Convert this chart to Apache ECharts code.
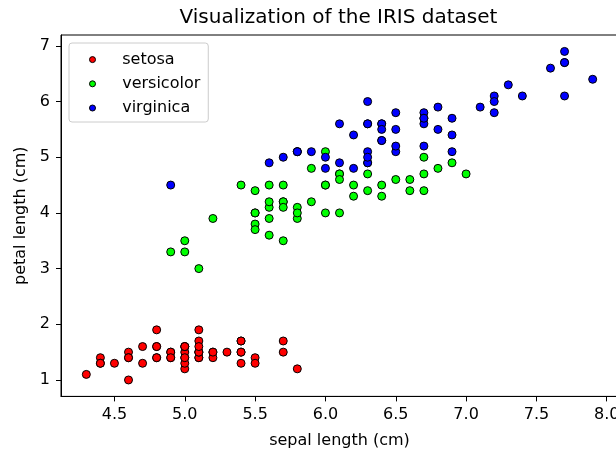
<!DOCTYPE html>
<html>
<head>
<meta charset="utf-8">
<script src="https://cdn.jsdelivr.net/npm/echarts@6/dist/echarts.min.js"></script>
<style>
html,body{margin:0;padding:0;background:#fff;}
#chart{width:616px;height:450px;}
</style>
</head>
<body>
<div id="chart"></div>
<script>
const setosaSepal = [5.1,4.9,4.7,4.6,5.0,5.4,4.6,5.0,4.4,4.9,5.4,4.8,4.8,4.3,5.8,5.7,5.4,5.1,5.7,5.1,5.4,5.1,4.6,5.1,4.8,5.0,5.0,5.2,5.2,4.7,4.8,5.4,5.2,5.5,4.9,5.0,5.5,4.9,4.4,5.1,5.0,4.5,4.4,5.0,5.1,4.8,5.1,4.6,5.3,5.0];
const setosaPetal = [1.4,1.4,1.3,1.5,1.4,1.7,1.4,1.5,1.4,1.5,1.5,1.6,1.4,1.1,1.2,1.5,1.3,1.4,1.7,1.5,1.7,1.5,1.0,1.7,1.9,1.6,1.6,1.5,1.4,1.6,1.6,1.5,1.5,1.4,1.5,1.2,1.3,1.4,1.3,1.5,1.3,1.3,1.3,1.6,1.9,1.4,1.6,1.4,1.5,1.4];
const versicolorSepal = [7.0,6.4,6.9,5.5,6.5,5.7,6.3,4.9,6.6,5.2,5.0,5.9,6.0,6.1,5.6,6.7,5.6,5.8,6.2,5.6,5.9,6.1,6.3,6.1,6.4,6.6,6.8,6.7,6.0,5.7,5.5,5.5,5.8,6.0,5.4,6.0,6.7,6.3,5.6,5.5,5.5,6.1,5.8,5.0,5.6,5.7,5.7,6.2,5.1,5.7];
const versicolorPetal = [4.7,4.5,4.9,4.0,4.6,4.5,4.7,3.3,4.6,3.9,3.5,4.2,4.0,4.7,3.6,4.4,4.5,4.1,4.5,3.9,4.8,4.0,4.9,4.7,4.3,4.4,4.8,5.0,4.5,3.5,3.8,3.7,3.9,5.1,4.5,4.5,4.7,4.4,4.1,4.0,4.4,4.6,4.0,3.3,4.2,4.2,4.2,4.3,3.0,4.1];
const virginicaSepal = [6.3,5.8,7.1,6.3,6.5,7.6,4.9,7.3,6.7,7.2,6.5,6.4,6.8,5.7,5.8,6.4,6.5,7.7,7.7,6.0,6.9,5.6,7.7,6.3,6.7,7.2,6.2,6.1,6.4,7.2,7.4,7.9,6.4,6.3,6.1,7.7,6.3,6.4,6.0,6.9,6.7,6.9,5.8,6.8,6.7,6.7,6.3,6.5,6.2,5.9];
const virginicaPetal = [6.0,5.1,5.9,5.6,5.8,6.6,4.5,6.3,5.8,6.1,5.1,5.3,5.5,5.0,5.1,5.3,5.5,6.7,6.9,5.0,5.7,4.9,6.7,4.9,5.7,6.0,4.8,4.9,5.6,5.8,6.1,6.4,5.6,5.1,5.6,6.1,5.6,5.5,4.8,5.4,5.6,5.1,5.1,5.9,5.7,5.2,5.0,5.2,5.4,5.1];
const speciesNames = ['setosa','versicolor','virginica'];
const speciesColors = ['#ff0000','#00ff00','#0000ff'];
const xTicks = [4.5,5.0,5.5,6.0,6.5,7.0,7.5,8.0];
const yTicks = [1,2,3,4,5,6,7];

const FONT = 'DejaVu Sans';
const pairs = [[setosaSepal,setosaPetal],[versicolorSepal,versicolorPetal],[virginicaSepal,virginicaPetal]];
const series = pairs.map((p,i)=>({
  name: speciesNames[i],
  type: 'scatter',
  data: p[0].map((x,j)=>[x,p[1][j]]),
  symbol: 'circle',
  symbolSize: 8,
  itemStyle: {color: speciesColors[i], borderColor:'#000', borderWidth:1, opacity:1},
  emphasis: {disabled:true}
}));

const chart = echarts.init(document.getElementById('chart'), null, {renderer:'canvas'});
chart.setOption({
  animation: false,
  backgroundColor: '#fff',
  graphic: [{
    type:'text', x:338.5, y:18, z:100,
    style:{text:'Visualization of the IRIS dataset', fontFamily:FONT, fontSize:20, fill:'#000', align:'center', verticalAlign:'middle'}
  }],
  grid: {left:61, right:-2, top:35, bottom:53.6, show:true, borderColor:'#000', borderWidth:1, backgroundColor:'transparent', containLabel:false, outerBoundsMode:'none'},
  legend: {
    orient:'vertical', left:69, top:43,
    padding:[8.6,8,6,20],
    itemGap:8.2, itemWidth:28, itemHeight:6,
    icon:'circle',
    backgroundColor:'rgba(255,255,255,0.8)', borderColor:'#cccccc', borderWidth:1, borderRadius:3,
    textStyle:{fontFamily:FONT, fontSize:16, color:'#000', lineHeight:16, padding:[0,0,0,10.7]},
    itemStyle:{borderColor:'#000', borderWidth:1},
    data: speciesNames
  },
  xAxis: {
    type:'value', min:4.12, max:8.08,
    name:'sepal length (cm)', nameLocation:'middle', nameGap:36,
    nameTextStyle:{fontFamily:FONT, fontSize:16, color:'#000'},
    axisLine:{show:true, lineStyle:{color:'#000', width:1}},
    axisTick:{show:true, length:5, customValues:xTicks, lineStyle:{color:'#000'}},
    axisLabel:{customValues:xTicks, margin:10, fontFamily:FONT, fontSize:16, color:'#000', formatter:v=>Number(v).toFixed(1)},
    splitLine:{show:false}
  },
  yAxis: {
    type:'value', min:0.705, max:7.195,
    name:'petal length (cm)', nameLocation:'middle', nameGap:32, nameRotate:90,
    nameTextStyle:{fontFamily:FONT, fontSize:16, color:'#000'},
    axisLine:{show:true, lineStyle:{color:'#000', width:1}},
    axisTick:{show:true, length:5, customValues:yTicks, lineStyle:{color:'#000'}},
    axisLabel:{customValues:yTicks, margin:11, fontFamily:FONT, fontSize:16, color:'#000', formatter:v=>String(Math.round(v))},
    splitLine:{show:false}
  },
  series: series
});
</script>
</body>
</html>
